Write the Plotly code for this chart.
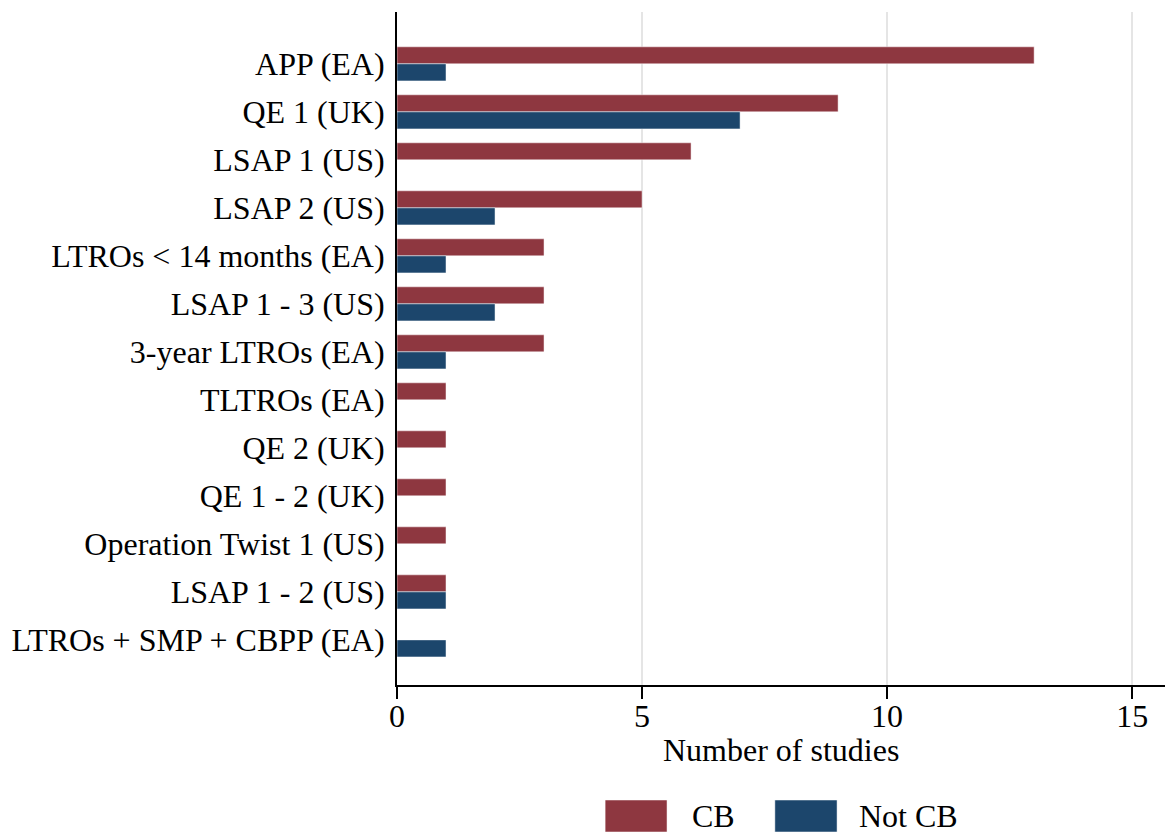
import plotly.graph_objects as go

categories = ["APP (EA)", "QE 1 (UK)", "LSAP 1 (US)", "LSAP 2 (US)", "LTROs < 14 months (EA)",
              "LSAP 1 - 3 (US)", "3-year LTROs (EA)", "TLTROs (EA)", "QE 2 (UK)", "QE 1 - 2 (UK)",
              "Operation Twist 1 (US)", "LSAP 1 - 2 (US)", "LTROs + SMP + CBPP (EA)"]
cb = [13, 9, 6, 5, 3, 3, 3, 1, 1, 1, 1, 1, 0]
not_cb = [1, 7, 0, 2, 1, 2, 1, 0, 0, 0, 0, 1, 1]
x_ticks = [0, 5, 10, 15]

RED = "#8E3740"
BLUE = "#1C466C"
FONT = "Liberation Serif"
FS = 32

pos = list(range(len(categories)))

fig = go.Figure()
fig.add_trace(go.Bar(y=pos, x=cb, orientation="h", name="CB",
                     marker=dict(color=RED, line=dict(color="rgba(255,255,255,0.6)", width=0.8)),
                     showlegend=False))
fig.add_trace(go.Bar(y=pos, x=not_cb, orientation="h", name="Not CB",
                     marker=dict(color=BLUE, line=dict(color="rgba(255,255,255,0.6)", width=0.8)),
                     showlegend=False))

fig.update_layout(
    width=1167, height=834,
    margin=dict(l=397, r=2, t=12, b=149),
    barmode="group", bargap=0.29, bargroupgap=0.0,
    plot_bgcolor="white", paper_bgcolor="white",
    font=dict(family=FONT, size=FS, color="black"),
    xaxis=dict(range=[0, 15.67], tickvals=x_ticks, ticks="outside", ticklen=12, tickwidth=2,
               tickcolor="black", showline=True, linecolor="black", linewidth=2,
               showgrid=True, gridcolor="#E5E5E5", gridwidth=1.5, zeroline=False,
               tickfont=dict(family=FONT, size=FS), ticklabelstandoff=-10),
    yaxis=dict(range=[12.94, -1.08], tickvals=pos, ticktext=categories, ticks="",
               showline=True, linecolor="black", linewidth=2, showgrid=False, zeroline=False,
               tickfont=dict(family=FONT, size=FS), ticklabelstandoff=4),
)

# x-axis title
fig.add_annotation(text="Number of studies", xref="paper", yref="paper", x=0.5, y=-0.0966,
                   xanchor="center", yanchor="middle", showarrow=False,
                   font=dict(family=FONT, size=FS, color="black"))

# custom legend
legend_items = [("CB", RED, 0.271, 0.3516, 0.3815), ("Not CB", BLUE, 0.492, 0.573, 0.599)]
for label, color, x0, x1, xt in legend_items:
    fig.add_shape(type="rect", xref="paper", yref="paper",
                  x0=x0, x1=x1, y0=-0.2184, y1=-0.1709,
                  fillcolor=color, line=dict(color="rgba(255,255,255,0.6)", width=0.8))
    fig.add_annotation(text=label, xref="paper", yref="paper", x=xt, y=-0.1947,
                       xanchor="left", yanchor="middle", showarrow=False,
                       font=dict(family=FONT, size=FS, color="black"))

fig.write_html("out.html", config={"displayModeBar": False},
               post_script="document.body.style.margin='0';")
